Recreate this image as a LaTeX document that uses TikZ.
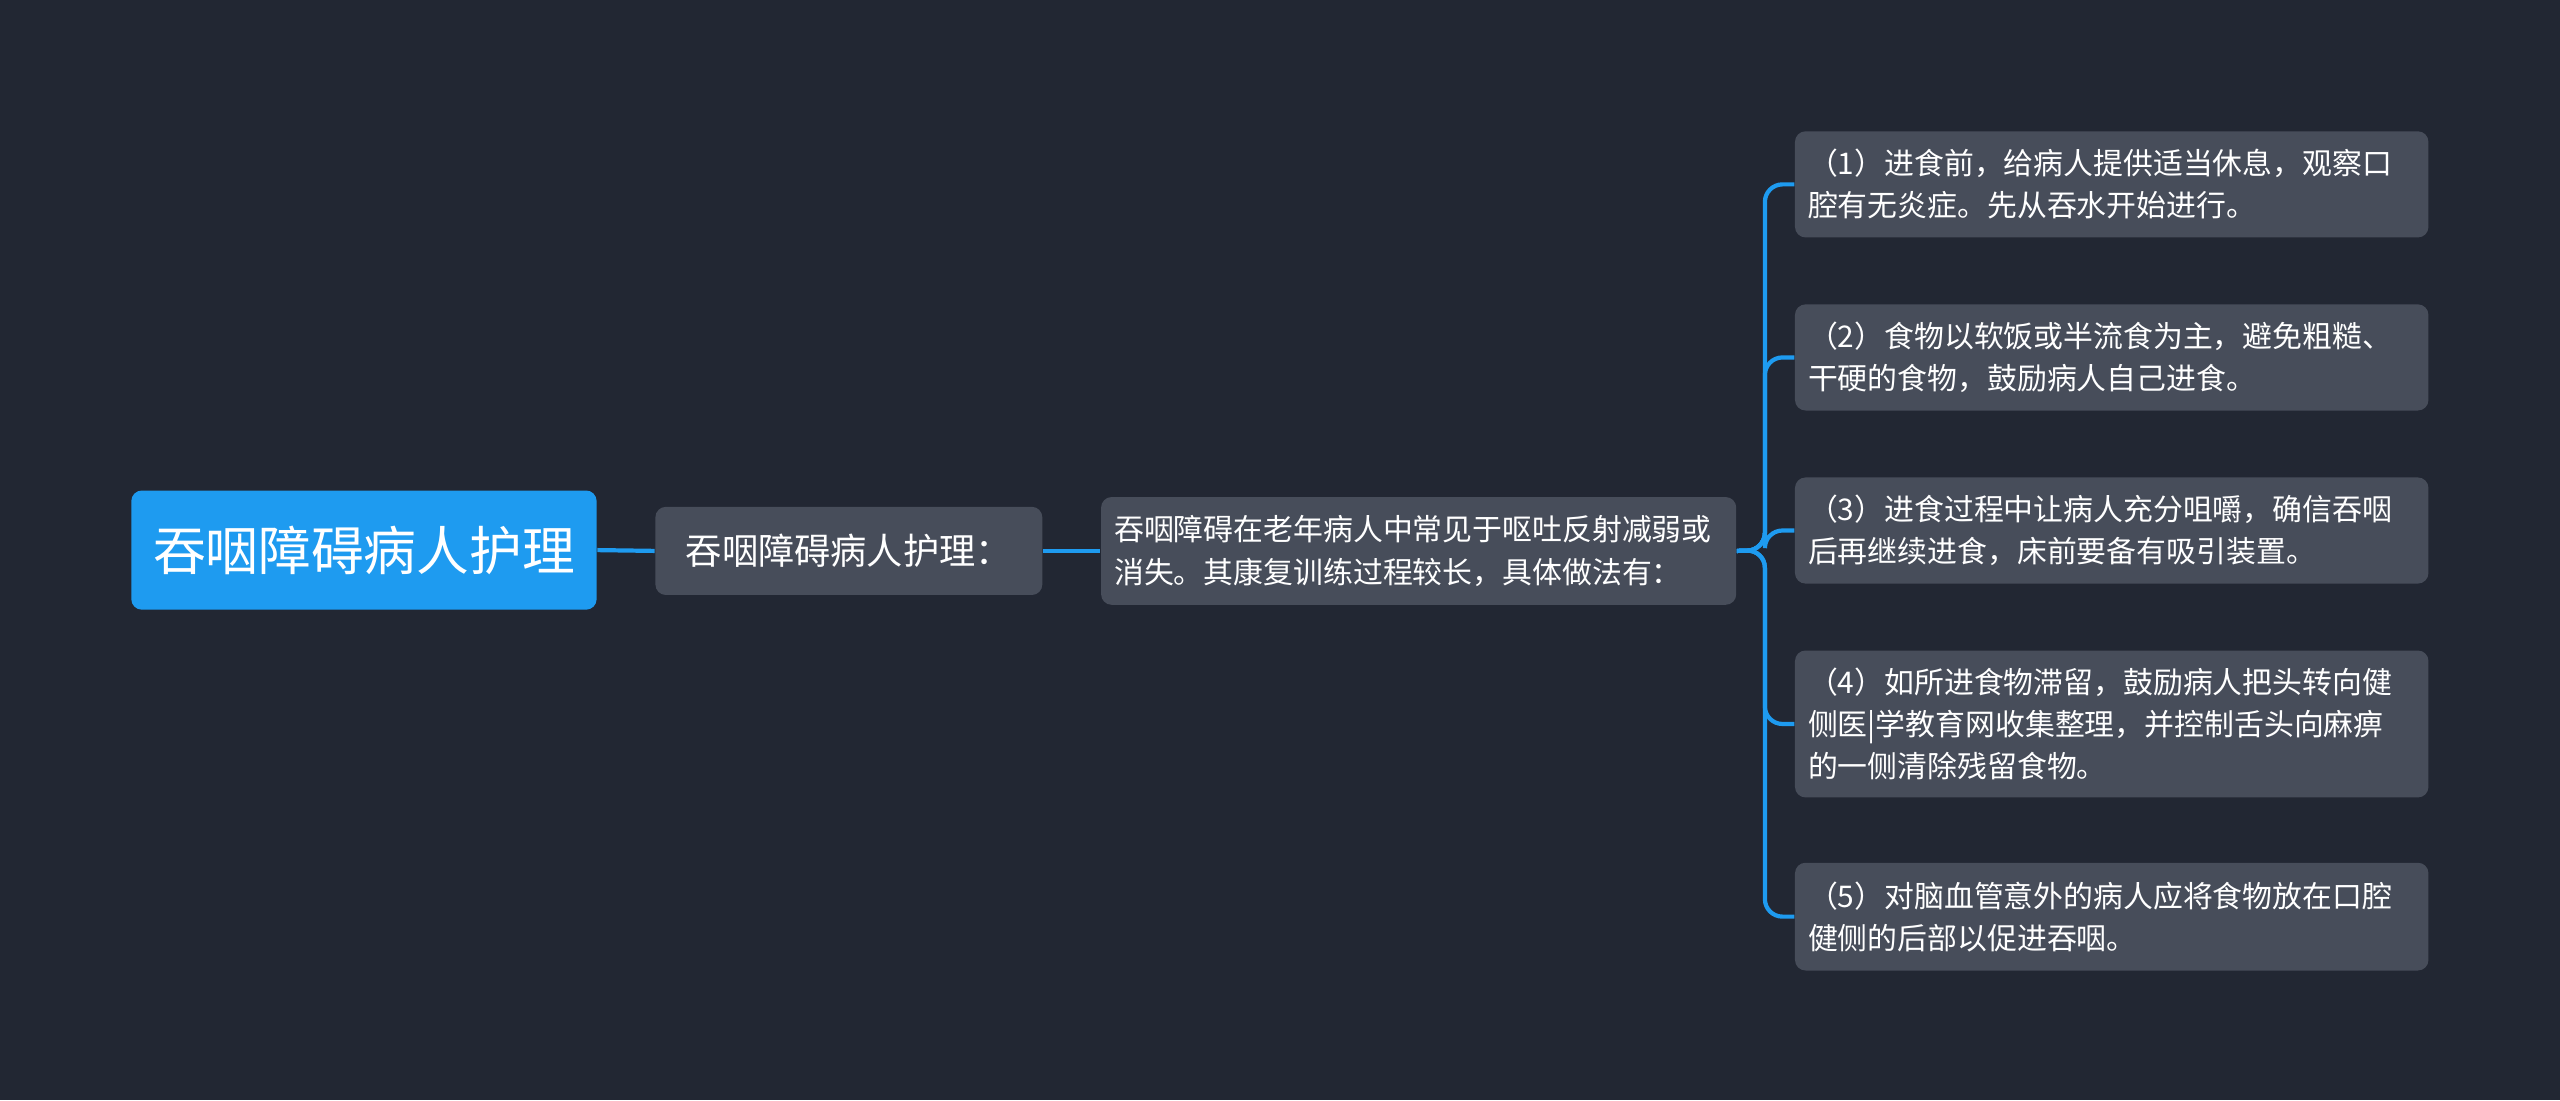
\documentclass[tikz,border=0pt]{standalone}
\usepackage{fontspec}
\setmainfont{Noto Sans CJK SC}
\begin{document}
\begin{tikzpicture}[x=0.01633cm,y=-0.01633cm,
  box/.style={rounded corners=3pt,inner sep=0pt,anchor=north west,text=white},
  small/.style={box,fill=gray1,font=\fontsize{8.5}{12}\selectfont,align=left,inner xsep=8*0.01633cm,text width=#1},
  conn/.style={draw=lineblue,line width=1.2pt,rounded corners=5pt}]
\definecolor{bg}{HTML}{222733}
\definecolor{gray1}{HTML}{474D5A}
\definecolor{lineblue}{HTML}{1E9BF0}
\fill[bg] (0,0) rectangle (1568,674);
\useasboundingbox (0,0) rectangle (1568,674);
\node[box,fill=lineblue,minimum width=285*0.01633cm,minimum height=73*0.01633cm,font=\fontsize{15}{17}\selectfont] (r) at (80,300) {吞咽障碍病人护理};
\node[box,fill=gray1,minimum width=237*0.01633cm,minimum height=54*0.01633cm,font=\fontsize{10.3}{12}\selectfont] (a) at (401,310) {吞咽障碍病人护理：};
\node[small=373*0.01633cm,minimum height=66*0.01633cm] (b) at (674,304) {吞咽障碍在老年病人中常见于呕吐反射减弱或\\消失。其康复训练过程较长，具体做法有：};
\node[small=372*0.01633cm,minimum height=65*0.01633cm] (c1) at (1099,80) {（1）进食前，给病人提供适当休息，观察口\\腔有无炎症。先从吞水开始进行。};
\node[small=372*0.01633cm,minimum height=65*0.01633cm] (c2) at (1099,186) {（2）食物以软饭或半流食为主，避免粗糙、\\干硬的食物，鼓励病人自己进食。};
\node[small=372*0.01633cm,minimum height=65*0.01633cm] (c3) at (1099,292) {（3）进食过程中让病人充分咀嚼，确信吞咽\\后再继续进食，床前要备有吸引装置。};
\node[small=372*0.01633cm,minimum height=90*0.01633cm] (c4) at (1099,398) {（4）如所进食物滞留，鼓励病人把头转向健\\侧医|学教育网收集整理，并控制舌头向麻痹\\的一侧清除残留食物。};
\node[small=372*0.01633cm,minimum height=66*0.01633cm] (c5) at (1099,528) {（5）对脑血管意外的病人应将食物放在口腔\\健侧的后部以促进吞咽。};
\draw[conn] (r.east) -- (a.west);
\draw[conn] (a.east) -- (b.west);
\coordinate (m) at (1081,337);
\foreach \n in {c1,c2,c3,c4,c5} \draw[conn] (b.east) -- (m) |- (\n.west);
\end{tikzpicture}
\end{document}
